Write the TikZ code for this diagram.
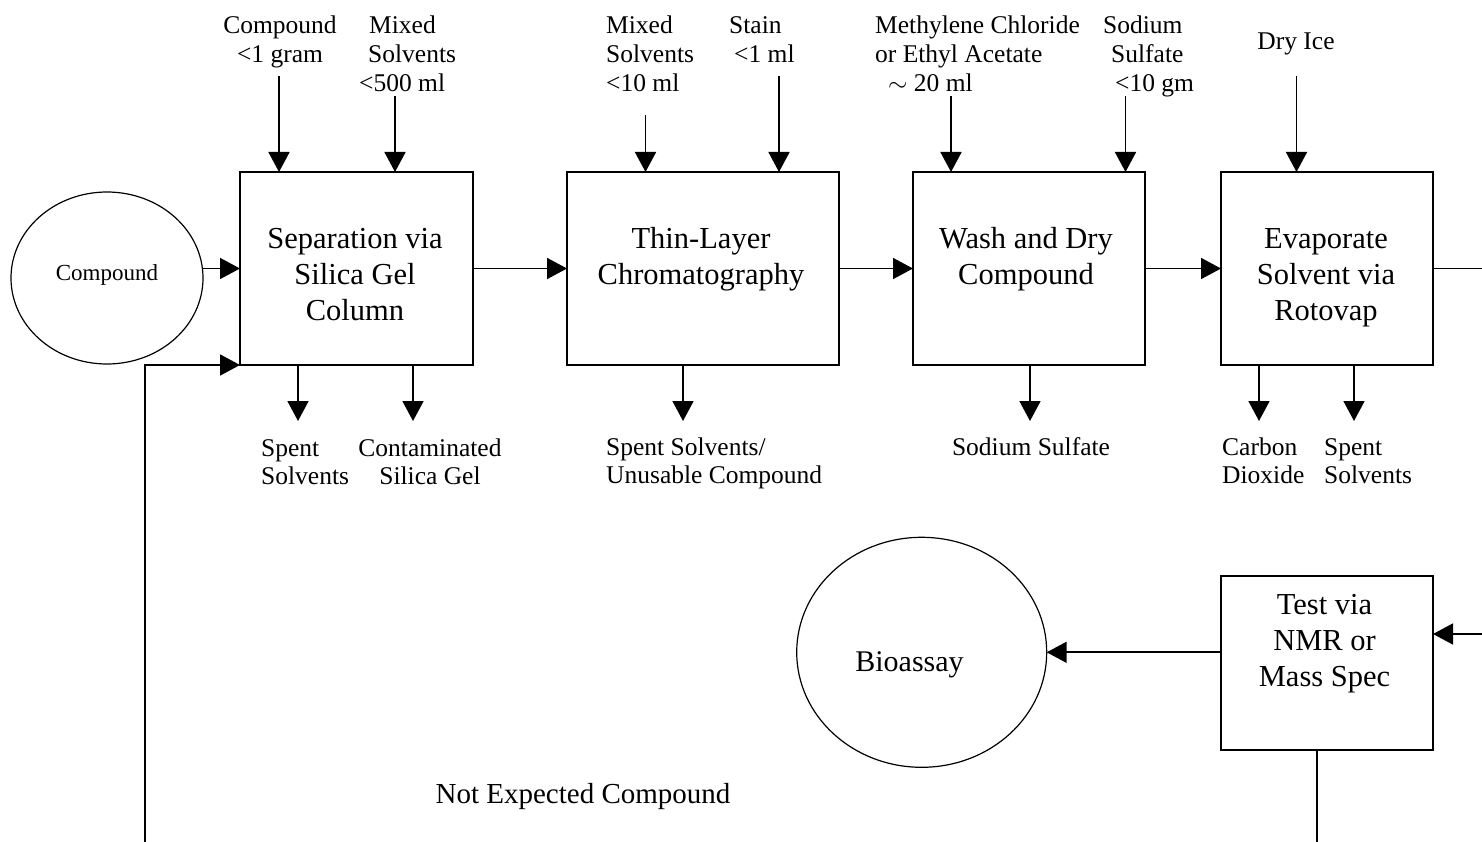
\documentclass[tikz,border=0pt]{standalone}
\usepackage{fontspec}
\setmainfont{Liberation Serif}
\usetikzlibrary{arrows.meta,shapes.geometric}
\tikzset{
  ln/.style={line width=1.7pt},
  arr/.style={ln,-{Triangle[length=20pt,width=21pt]}},
  procbox/.style={draw,line width=1.7pt,inner sep=0pt,outer sep=0pt,minimum width=#1},
  ovalnode/.style={draw,ellipse,line width=1.2pt,inner sep=0pt,outer sep=0pt},
  lbl/.style={inner sep=0pt,font=\fontsize{25.5}{29}\selectfont},
  blbl/.style={inner sep=0pt,font=\fontsize{25.5}{28}\selectfont},
  boxtxt/.style={inner sep=0pt,align=center,anchor=base,font=\fontsize{30.5}{36}\selectfont},
}
\begin{document}
\begin{tikzpicture}[x=1pt,y=-1pt]
\useasboundingbox (0,0) rectangle (1482,842);

% process boxes
\node[procbox=233pt,minimum height=193pt] (b1) at (356.5,268.5) {};
\node[procbox=272pt,minimum height=193pt] (b2) at (703,268.5) {};
\node[procbox=232pt,minimum height=193pt] (b3) at (1029,268.5) {};
\node[procbox=212pt,minimum height=193pt] (b4) at (1327,268.5) {};
\node[procbox=212pt,minimum height=174pt] (b5) at (1327,663) {};

% ovals
\node[ovalnode,minimum width=192pt,minimum height=172pt] (c1) at (107,278) {};
\node[ovalnode,minimum width=250pt,minimum height=230pt] (c2) at (921.7,652.3) {};

% texts in shapes (anchor = baseline of last line)
\node[boxtxt] (t1) at (355,320) {Separation via\\Silica Gel\\Column};
\node[boxtxt] (t2) at (701,284) {Thin-Layer\\Chromatography};
\node[boxtxt] (t3) at (1026,284) {Wash and Dry\\Compound};
\node[boxtxt] (t4) at (1326,320) {Evaporate\\Solvent via\\Rotovap};
\node[boxtxt] (t5) at (1324.5,686) {Test via\\NMR or\\Mass Spec};
\node[inner sep=0pt,anchor=base,font=\fontsize{23}{27}\selectfont] (tc1) at (107,280) {Compound};
\node[inner sep=0pt,anchor=base,font=\fontsize{30}{36}\selectfont] (tc2) at (909.5,671.7) {Bioassay};
\node[inner sep=0pt,anchor=base,font=\fontsize{29}{34}\selectfont] (tne) at (583,803) {Not Expected Compound};

% top input labels
\node[lbl,align=center,anchor=base] (l1) at (280,63) {Compound\\<1 gram};
\node[lbl,align=left,anchor=base west] (l2) at (359,92) {\hspace*{10pt}Mixed\\\hspace*{9pt}Solvents\\<500 ml};
\node[lbl,align=left,anchor=base west] (l3) at (606,92) {Mixed\\Solvents\\<10 ml};
\node[lbl,align=left,anchor=base west] (l4) at (729,63) {Stain\\\hspace*{5pt}<1 ml};
\node[lbl,align=left,anchor=base west] (l5) at (875,92) {Methylene Chloride\\or Ethyl Acetate\\\hspace*{13pt}$\sim$ 20 ml};
\node[lbl,align=left,anchor=base west] (l6) at (1103,92) {Sodium\\\hspace*{8pt}Sulfate\\\hspace*{12pt}<10 gm};
\node[lbl,anchor=base] (l7) at (1296,50) {Dry Ice};

% bottom output labels
\node[blbl,align=left,anchor=base west] (m1) at (261,484) {Spent\\Solvents};
\node[blbl,align=center,anchor=base] (m2) at (430,484) {Contaminated\\Silica Gel};
\node[blbl,align=left,anchor=base west] (m3) at (606,483) {Spent Solvents/\\Unusable Compound};
\node[blbl,anchor=base] (m4) at (1031,455) {Sodium Sulfate};
\node[blbl,align=left,anchor=base west] (m5) at (1222,483) {Carbon\\Dioxide};
\node[blbl,align=left,anchor=base west] (m6) at (1324,483) {Spent\\Solvents};

% input arrow starts
\coordinate (i1) at (279,76);
\coordinate (i2) at (395,96);
\coordinate (i3) at (645.5,115);
\coordinate (i4) at (779,76);
\coordinate (i5) at (951,96.5);
\coordinate (i6) at (1125.5,96.5);
\coordinate (i7) at (1296.5,76);
\foreach \i/\b in {i1/b1,i2/b1,i3/b2,i4/b2,i5/b3,i6/b3,i7/b4}
  \draw[arr] (\i) -- (\i |- \b.north);

% output arrow ends
\coordinate (o1) at (298,421);
\coordinate (o2) at (413,421);
\coordinate (o3) at (683,421);
\coordinate (o4) at (1030,421);
\coordinate (o5) at (1259,421);
\coordinate (o6) at (1354,421);
\foreach \o/\b in {o1/b1,o2/b1,o3/b2,o4/b3,o5/b4,o6/b4}
  \draw[arr] (\o |- \b.south) -- (\o);

% main flow
\draw[arr] (c1.east |- b1.west) -- (b1.west);
\draw[arr] (b1.east) -- (b2.west);
\draw[arr] (b2.east) -- (b3.west);
\draw[arr] (b3.east) -- (b4.west);
\coordinate (r1) at (1482,268.5);
\draw[ln] (b4.east) -- (r1);
\coordinate (r2) at (1482,634);
\draw[arr] (r2) -- (r2 -| b5.east);
\draw[arr] (c2.east -| b5.west) -- (c2.east);

% feedback loop
\coordinate (d1) at (1317,842);
\draw[ln] (d1 |- b5.south) -- (d1);
\coordinate (d2) at (145,842);
\draw[arr] (d2) |- (b1.south west);
\end{tikzpicture}
\end{document}
